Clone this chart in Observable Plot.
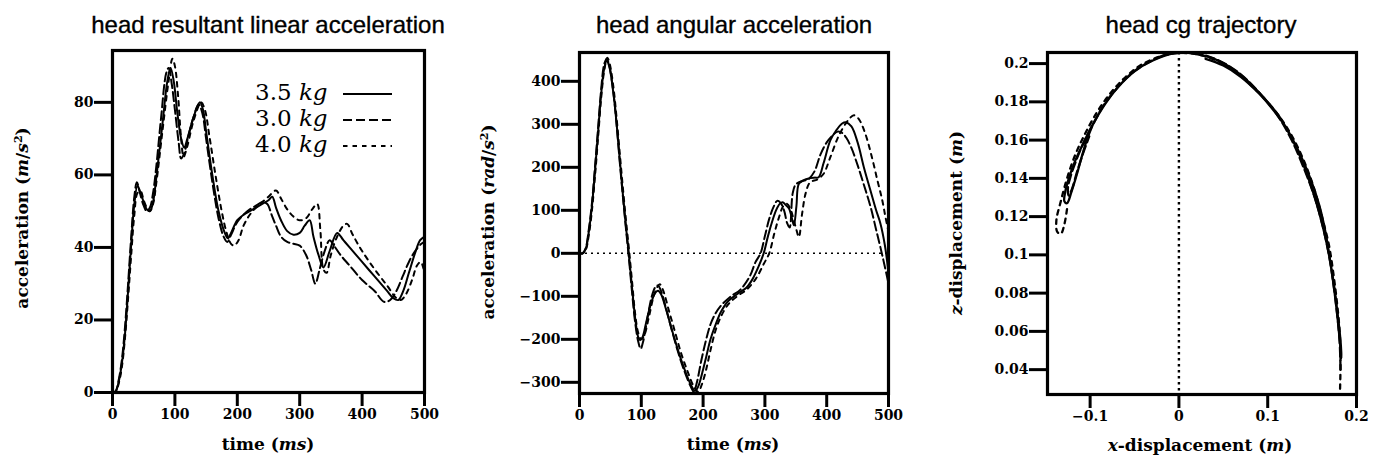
<!DOCTYPE html>
<html><head><meta charset="utf-8">
<script src="https://cdn.jsdelivr.net/npm/d3@7"></script>
<script src="https://cdn.jsdelivr.net/npm/@observablehq/plot@0.6"></script>
<style>
body{margin:0;background:#fff;}
#fig{position:relative;width:1380px;height:460px;background:#fff;overflow:hidden;color:#000;}
.panel{position:absolute;top:40px;width:460px;height:420px;}
.title{position:absolute;font-family:"Liberation Sans",sans-serif;font-size:24px;line-height:1;white-space:nowrap;transform:translate(-50%,-50%);-webkit-text-stroke:0.35px #000;}
.xlab{position:absolute;font-family:"DejaVu Serif",serif;font-weight:bold;font-size:17px;line-height:1;white-space:nowrap;transform:translate(-50%,-50%);}
.ylab{position:absolute;font-family:"DejaVu Serif",serif;font-weight:bold;font-size:17px;line-height:1;white-space:nowrap;transform:translate(-50%,-50%) rotate(-90deg);}
.ylab sup,.xlab sup{font-size:11px;vertical-align:6px;line-height:0;}
.legend{position:absolute;left:255px;top:79px;font-family:"DejaVu Serif",serif;font-size:23px;}
.legend .row{height:26px;line-height:26px;white-space:nowrap;display:flex;align-items:flex-start;}
.legend .lbl{width:88px;}
.legend svg{display:block;}
</style>
</head><body>
<div id="fig"></div>
<script>
// ---------- data ----------
const seriesNames = ["3.5 kg", "3.0 kg", "4.0 kg"];

const timeTicks = [0, 100, 200, 300, 400, 500];
const linTicks = [0, 20, 40, 60, 80];
const angTicks = [-300, -200, -100, 0, 100, 200, 300, 400];
const xDispTicks = [-0.1, 0, 0.1, 0.2];
const zDispTicks = [0.04, 0.06, 0.08, 0.1, 0.12, 0.14, 0.16, 0.18, 0.2];

// head resultant linear acceleration [t (ms), a (m/s^2)]
const lin35 = [[0,0],[5,0.3],[10,3],[15,8],[20,16],[25,28],[30,41],[35,52],[40,57],[45,55],[50,52.5],[55,50.5],[60,50],[65,52.5],[70,59],[80,74],[88,86],[93,89.5],[98,86],[104,77],[110,70],[115,67.5],[120,70],[130,76],[140,80],[145,78],[150,72],[160,60],[170,50],[180,44],[185,42.5],[190,44],[200,47.5],[210,49],[220,50],[230,51],[240,52],[250,53],[256,54],[262,51],[270,47.5],[280,44.5],[290,43.5],[300,44],[308,46],[316,47.5],[322,43],[330,38],[338,34.5],[348,39],[360,44],[370,42],[380,40],[400,36],[420,32],[440,28],[450,26],[458,25.5],[466,28],[475,33],[485,38.5],[493,42],[500,43]];
const lin30 = [[0,0],[5,0.4],[10,3.5],[15,9],[20,18],[25,30],[30,43],[35,54],[39,58],[44,55],[50,51.5],[55,50],[60,51],[65,55],[70,62],[78,76],[86,88],[90,89.5],[95,85],[100,78],[106,69],[110,64.5],[115,66],[122,71],[130,76],[138,79.5],[144,77],[150,70],[160,58],[170,48],[178,43],[184,41.5],[190,43.5],[200,47],[210,49],[220,50.5],[230,51.5],[240,52.5],[248,52],[255,49],[262,46],[270,43],[280,41.5],[290,41],[300,40.5],[310,38],[318,34],[325,30],[332,34],[340,39],[348,42],[355,40.5],[365,38],[380,35],[400,31],[420,28],[435,25],[445,25.5],[455,28],[465,32],[475,36],[485,39],[495,41],[500,41.5]];
const lin40 = [[0,0],[5,0.2],[10,2.5],[15,7],[20,15],[25,26],[30,38],[35,49],[40,55],[45,55.5],[50,53],[55,51],[60,50],[65,52],[70,57.5],[80,72],[90,86],[96,92],[100,90],[105,82],[110,70],[114,65],[120,68],[130,75],[142,80],[148,78],[155,71],[165,60],[175,50],[183,44],[190,41],[195,40.5],[202,42],[210,46],[220,49],[230,51],[240,52.5],[250,54],[262,55.7],[270,53.5],[280,50.5],[290,48.5],[300,47.5],[310,48],[320,50.5],[328,52],[333,45],[338,34],[343,33],[350,38],[360,43],[370,46],[376,46.5],[385,43.5],[400,39],[420,34],[440,29.5],[455,26],[462,25.5],[470,27],[480,31],[488,35],[494,36],[500,33]];

// head angular acceleration [t (ms), alpha (rad/s^2)]
const ang35 = [[0,0],[5,0],[10,10],[15,50],[20,108],[25,190],[30,280],[35,370],[40,430],[44,447],[48,435],[55,370],[60,302],[65,220],[70,140],[75,65],[80,-5],[85,-80],[90,-150],[95,-195],[98,-202],[102,-195],[108,-160],[115,-120],[122,-93],[127,-87],[132,-95],[140,-130],[150,-180],[160,-228],[170,-270],[180,-305],[187,-320],[192,-310],[200,-270],[205,-241],[212,-200],[221,-163],[229,-136],[240,-112],[256,-94],[270,-80],[280,-60],[290,-30],[298,0],[305,40],[312,75],[318,100],[324,115],[329,119],[334,112],[339,104],[344,80],[347,65],[351,110],[355,162],[363,170],[371,174],[380,176],[387,177],[395,210],[406,263],[415,285],[425,302],[431,305],[440,295],[450,258],[460,201],[470,150],[480,100],[487,69],[494,20],[500,-45]];
const ang30 = [[0,0],[5,0],[10,12],[15,55],[20,115],[25,200],[30,290],[35,380],[40,440],[44,452],[48,438],[55,372],[60,300],[65,215],[70,135],[75,60],[80,-12],[85,-90],[90,-160],[95,-205],[99,-222],[103,-205],[110,-150],[117,-100],[123,-78],[127,-75],[132,-88],[140,-128],[150,-182],[160,-232],[170,-275],[180,-310],[185,-322],[190,-300],[197,-250],[205,-200],[212,-165],[220,-140],[230,-120],[245,-100],[260,-85],[275,-55],[285,-20],[293,0],[300,40],[307,80],[314,108],[320,122],[325,118],[331,100],[336,70],[340,60],[345,140],[350,160],[360,168],[370,172],[380,190],[390,230],[400,258],[410,275],[418,283],[425,280],[432,268],[440,245],[450,205],[460,160],[471,108],[480,55],[490,-5],[500,-70]];
const ang40 = [[0,0],[5,0],[10,8],[15,42],[20,98],[25,178],[30,268],[35,360],[40,425],[45,455],[49,440],[55,385],[60,315],[65,235],[70,155],[75,80],[80,10],[85,-65],[90,-140],[95,-185],[100,-200],[105,-190],[112,-150],[120,-100],[126,-78],[130,-72],[135,-85],[145,-135],[155,-185],[165,-235],[175,-275],[185,-310],[192,-322],[198,-305],[205,-270],[212,-225],[220,-180],[228,-150],[240,-120],[255,-100],[270,-85],[285,-60],[298,-25],[307,0],[315,45],[322,80],[330,110],[336,115],[342,100],[350,60],[355,38],[360,90],[366,140],[373,165],[385,172],[395,185],[405,220],[420,275],[435,310],[444,321],[452,312],[462,280],[472,230],[482,170],[490,123],[495,85],[500,50]];

// head cg trajectory [x (m), z (m)]
const traj35 = [[0.03,0.2025],[0.05,0.199],[0.07,0.193],[0.09,0.1845],[0.105,0.1765],[0.12,0.167],[0.135,0.154],[0.148,0.14],[0.158,0.126],[0.165,0.112],[0.17,0.098],[0.175,0.083],[0.179,0.068],[0.182,0.055],[0.183,0.046],[0.181,0.056],[0.178,0.07],[0.174,0.085],[0.169,0.1],[0.162,0.115],[0.153,0.13],[0.142,0.145],[0.128,0.16],[0.112,0.173],[0.092,0.184],[0.07,0.194],[0.045,0.2015],[0.02,0.205],[-0.005,0.2055],[-0.03,0.2015],[-0.05,0.196],[-0.068,0.188],[-0.083,0.179],[-0.096,0.169],[-0.107,0.159],[-0.117,0.149],[-0.124,0.14],[-0.128,0.133],[-0.129,0.128],[-0.126,0.127],[-0.121,0.133],[-0.115,0.142],[-0.109,0.152],[-0.103,0.161],[-0.097,0.168]];
const traj30 = [[0.182,0.04],[0.181,0.055],[0.178,0.07],[0.174,0.085],[0.169,0.1],[0.162,0.115],[0.153,0.13],[0.141,0.145],[0.127,0.16],[0.111,0.173],[0.09,0.185],[0.068,0.195],[0.043,0.202],[0.018,0.2055],[-0.008,0.2055],[-0.033,0.201],[-0.053,0.195],[-0.07,0.187],[-0.085,0.178],[-0.097,0.168],[-0.108,0.158],[-0.116,0.149],[-0.122,0.141],[-0.125,0.135],[-0.124,0.131],[-0.12,0.135],[-0.115,0.143],[-0.108,0.153],[-0.101,0.162]];
const traj40 = [[0.1815,0.03],[0.182,0.045],[0.181,0.06],[0.178,0.075],[0.174,0.09],[0.169,0.105],[0.161,0.12],[0.152,0.135],[0.14,0.15],[0.125,0.164],[0.107,0.176],[0.085,0.187],[0.06,0.197],[0.035,0.203],[0.01,0.2055],[-0.015,0.2045],[-0.04,0.2],[-0.06,0.193],[-0.078,0.184],[-0.093,0.174],[-0.106,0.163],[-0.117,0.152],[-0.126,0.14],[-0.133,0.128],[-0.138,0.118],[-0.137,0.112],[-0.133,0.111],[-0.129,0.116],[-0.126,0.124]];

// ---------- styles ----------
const dashStyles = [null, "9,4", "4.5,5"];
const fig = document.getElementById("fig");

function curves(sets, sw) {
  return sets.map((data, i) => Plot.line(data, {
    x: d => d[0], y: d => d[1], curve: "catmull-rom",
    stroke: "black", strokeWidth: sw,
    strokeDasharray: dashStyles[i] || undefined
  }));
}

function panel({left, margins, xDomain, yDomain, xTicks, yTicks, fmt, sets, sw, extra}) {
  const p = Plot.plot({
    width: 460, height: 420,
    marginTop: margins[0], marginRight: margins[1], marginBottom: margins[2], marginLeft: margins[3],
    x: {domain: xDomain, label: null},
    y: {domain: yDomain, label: null},
    style: {fontFamily: "'DejaVu Serif', serif", fontWeight: "bold", fontSize: "14px", color: "black", background: "white", overflow: "visible"},
    marks: [
      ...(extra || []),
      ...curves(sets, sw),
      Plot.frame({stroke: "black", strokeWidth: 3.2}),
      Plot.axisX({ticks: xTicks, tickSize: 14, tickPadding: 3, strokeWidth: 3, label: null, tickFormat: fmt ? fmt.x : undefined}),
      Plot.axisY({ticks: yTicks, tickSize: 18, tickPadding: 1, strokeWidth: 3, label: null, tickFormat: fmt ? fmt.y : undefined})
    ]
  });
  const d = document.createElement("div");
  d.className = "panel";
  d.style.left = left + "px";
  d.appendChild(p);
  fig.appendChild(d);
}

const decFmt = v => (v < 0 ? "\u2212" : "") + String(Math.abs(v));

panel({left: 0, margins: [10, 36, 68, 112], xDomain: [0, 500], yDomain: [0, 94.3],
  xTicks: timeTicks, yTicks: linTicks, sets: [lin35, lin30, lin40], sw: 2});
panel({left: 460, margins: [12, 32, 67, 119], xDomain: [0, 500], yDomain: [-326, 467],
  xTicks: timeTicks, yTicks: angTicks, sets: [ang35, ang30, ang40], sw: 2,
  extra: [Plot.ruleY([0], {stroke: "black", strokeWidth: 1.6, strokeDasharray: "2,4"})]});
panel({left: 920, margins: [12, 24, 66, 127], xDomain: [-0.148, 0.2], yDomain: [0.027, 0.2058],
  xTicks: xDispTicks, yTicks: zDispTicks, fmt: {x: decFmt, y: decFmt}, sets: [traj35, traj30, traj40], sw: 2.3,
  extra: [Plot.ruleX([0], {stroke: "black", strokeWidth: 2.4, strokeDasharray: "2.4,3.6"})]});

// ---------- text ----------
function addText(cls, html, x, y) {
  const el = document.createElement("div");
  el.className = cls; el.innerHTML = html;
  el.style.left = x + "px"; el.style.top = y + "px";
  fig.appendChild(el);
}
addText("title", "head resultant linear acceleration", 268, 25);
addText("title", "head angular acceleration", 734, 25);
addText("title", "head cg trajectory", 1201, 25);
addText("xlab", "time (<i>ms</i>)", 268, 444);
addText("xlab", "time (<i>ms</i>)", 733, 444);
addText("xlab", "<i>x</i>-displacement (<i>m</i>)", 1200, 445);
addText("ylab", "acceleration (<i>m</i>/<i>s</i><sup>2</sup>)", 22, 218);
addText("ylab", "acceleration (<i>rad</i>/<i>s</i><sup>2</sup>)", 488, 222);
addText("ylab", "<i>z</i>-displacement (<i>m</i>)", 956, 223);

// legend
const leg = document.createElement("div");
leg.className = "legend";
seriesNames.forEach((name, i) => {
  const [num, unit] = name.split(" ");
  const row = document.createElement("div");
  row.className = "row";
  row.innerHTML = `<span class="lbl">${num} <i>${unit}</i></span>` +
    `<svg width="50" height="26"><line x1="0" x2="49" y1="15" y2="15" stroke="black" stroke-width="1.9" ${dashStyles[i] ? `stroke-dasharray="${dashStyles[i]}"` : ""}/></svg>`;
  leg.appendChild(row);
});
fig.appendChild(leg);
</script>
</body></html>
